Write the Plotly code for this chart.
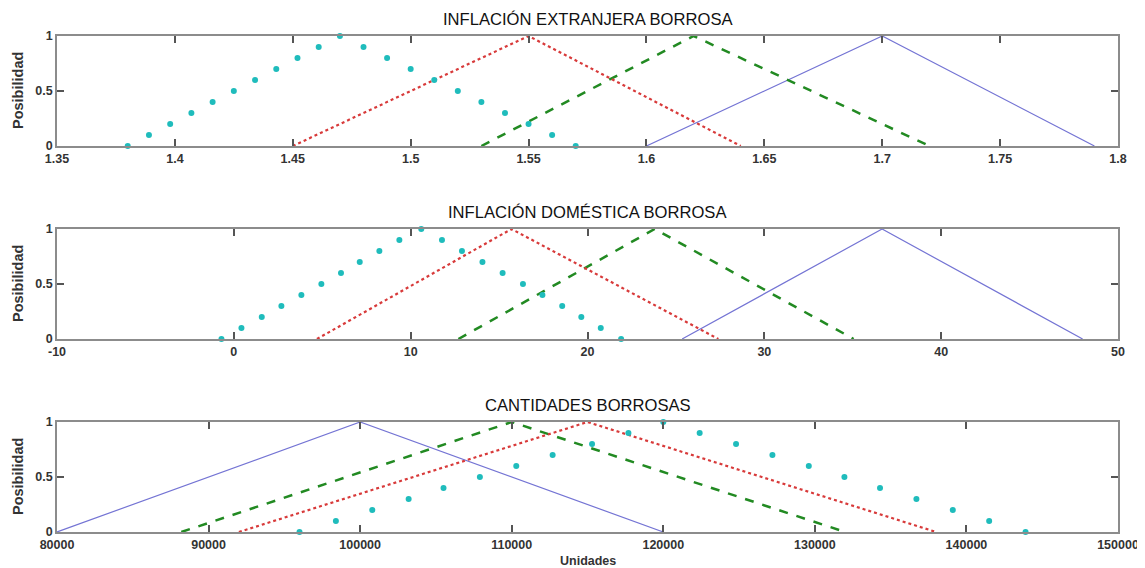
import plotly.graph_objects as go

# ---------------- data ----------------
titles = ["INFLACIÓN EXTRANJERA BORROSA", "INFLACIÓN DOMÉSTICA BORROSA", "CANTIDADES BORROSAS"]

# panel 1: foreign inflation
p1_cyan_x = [1.38, 1.389, 1.398, 1.407, 1.416, 1.425, 1.434, 1.443, 1.452, 1.461, 1.47,
             1.48, 1.49, 1.50, 1.51, 1.52, 1.53, 1.54, 1.55, 1.56, 1.57]
p1_cyan_y = [0, 0.1, 0.2, 0.3, 0.4, 0.5, 0.6, 0.7, 0.8, 0.9, 1.0,
             0.9, 0.8, 0.7, 0.6, 0.5, 0.4, 0.3, 0.2, 0.1, 0]
p1_red_x = [1.45, 1.55, 1.64]
p1_green_x = [1.53, 1.62, 1.72]
p1_blue_x = [1.60, 1.70, 1.79]
p1_ticks = [1.35, 1.4, 1.45, 1.5, 1.55, 1.6, 1.65, 1.7, 1.75, 1.8]
p1_ticklabels = ["1.35", "1.4", "1.45", "1.5", "1.55", "1.6", "1.65", "1.7", "1.75", "1.8"]

# panel 2: domestic inflation
p2_cyan_x = [-0.7, 0.43, 1.58, 2.69, 3.82, 4.95, 6.06, 7.12, 8.23, 9.36, 10.6,
             11.77, 12.9, 14.06, 15.2, 16.35, 17.45, 18.57, 19.65, 20.75, 21.9]
p2_cyan_y = [0, 0.1, 0.2, 0.3, 0.4, 0.5, 0.6, 0.7, 0.8, 0.9, 1.0,
             0.9, 0.8, 0.7, 0.6, 0.5, 0.4, 0.3, 0.2, 0.1, 0]
p2_red_x = [4.7, 15.7, 27.4]
p2_green_x = [12.7, 23.8, 35.05]
p2_blue_x = [25.35, 36.66, 48.0]
p2_ticks = [-10, 0, 10, 20, 30, 40, 50]
p2_ticklabels = ["-10", "0", "10", "20", "30", "40", "50"]

# panel 3: quantities
p3_cyan_x = [96000, 98400, 100800, 103200, 105500, 107900, 110300, 112700, 115300, 117700, 120000,
             122400, 124800, 127200, 129600, 131950, 134300, 136700, 139100, 141500, 143900]
p3_cyan_y = [0, 0.1, 0.2, 0.3, 0.4, 0.5, 0.6, 0.7, 0.8, 0.9, 1.0,
             0.9, 0.8, 0.7, 0.6, 0.5, 0.4, 0.3, 0.2, 0.1, 0]
p3_red_x = [92000, 115000, 138000]
p3_green_x = [88200, 110000, 132000]
p3_blue_x = [80000, 100000, 120000]
p3_ticks = [80000, 90000, 100000, 110000, 120000, 130000, 140000, 150000]
p3_ticklabels = ["80000", "90000", "100000", "110000", "120000", "130000", "140000", "150000"]

tri_y = [0, 1, 0]

x_ranges = [[1.35, 1.8], [-10, 50], [80000, 150000]]
y_ticks = [0, 0.5, 1]
y_ticklabels = ["0", "0.5", "1"]

# ---------------- figure ----------------
fig = go.Figure()

# the page has an 8px body margin, so the figure is 8px smaller than the window
W, H = 1137, 560
ML, MR, MT, MB = 49, 27, 28, 36
plot_h = H - MT - MB
plot_w = W - ML - MR

def dom(top_px, bot_px):
    return [(H - bot_px - MB) / plot_h, (H - top_px - MB) / plot_h]

domains = [dom(28, 138), dom(221, 331), dom(414, 524)]

cyan = "#1fbcbc"
red = "#d83a3a"
green = "#228a22"
blue = "#7474d4"

panels = [
    (p1_cyan_x, p1_cyan_y, p1_red_x, p1_green_x, p1_blue_x, p1_ticks, p1_ticklabels),
    (p2_cyan_x, p2_cyan_y, p2_red_x, p2_green_x, p2_blue_x, p2_ticks, p2_ticklabels),
    (p3_cyan_x, p3_cyan_y, p3_red_x, p3_green_x, p3_blue_x, p3_ticks, p3_ticklabels),
]

tick_font = dict(family="Liberation Sans, Arial", size=12.5, color="#333333", weight="bold")

for i, (cx, cy, rx, gx, bx, tv, tt) in enumerate(panels):
    n = "" if i == 0 else str(i + 1)
    xa, ya = "x" + n, "y" + n
    fig.add_trace(go.Scatter(x=bx, y=tri_y, mode="lines", xaxis=xa, yaxis=ya,
                             line=dict(color=blue, width=1.2), showlegend=False, cliponaxis=False))
    fig.add_trace(go.Scatter(x=gx, y=tri_y, mode="lines", xaxis=xa, yaxis=ya,
                             line=dict(color=green, width=2.5, dash="dash"), showlegend=False, cliponaxis=False))
    fig.add_trace(go.Scatter(x=rx, y=tri_y, mode="lines", xaxis=xa, yaxis=ya,
                             line=dict(color=red, width=2.2, dash="dot"), showlegend=False, cliponaxis=False))
    fig.add_trace(go.Scatter(x=cx, y=cy, mode="markers", xaxis=xa, yaxis=ya,
                             marker=dict(color=cyan, size=6), showlegend=False, cliponaxis=False))

    axis_common = dict(showline=True, mirror="ticks", linecolor="#8c8c8c", linewidth=1.8,
                       ticks="inside", ticklen=7, tickcolor="#555555", tickwidth=1.5,
                       showgrid=False, zeroline=False, tickfont=tick_font)
    fig.update_layout(**{
        "xaxis" + n: dict(domain=[0, 1], range=x_ranges[i], tickvals=tv, ticktext=tt,
                          anchor=ya, **axis_common),
        "yaxis" + n: dict(domain=domains[i], range=[0, 1], tickvals=y_ticks, ticktext=y_ticklabels,
                          anchor=xa, **axis_common),
    })

    # title
    fig.add_annotation(text=titles[i], xref="paper", yref="paper", x=0.5, y=domains[i][1],
                       yshift=5, xanchor="center", yanchor="bottom", showarrow=False,
                       font=dict(family="Liberation Sans, Arial", size=16.6, color="#111111"))
    # y label
    fig.add_annotation(text="<b>Posibilidad</b>", xref="paper", yref="paper",
                       x=(10 - ML) / plot_w, y=sum(domains[i]) / 2,
                       xanchor="center", yanchor="middle", textangle=-90, showarrow=False,
                       font=dict(family="Liberation Sans, Arial", size=14.5, color="#333333"))

fig.add_annotation(text="<b>Unidades</b>", xref="paper", yref="paper", x=0.5, y=0, yshift=-20,
                   xanchor="center", yanchor="top", showarrow=False,
                   font=dict(family="Liberation Sans, Arial", size=12.5, color="#333333"))

fig.update_layout(width=W, height=H, margin=dict(l=ML, r=MR, t=MT, b=MB, autoexpand=False),
                  paper_bgcolor="white", plot_bgcolor="white")

fig.write_html("out.html")
